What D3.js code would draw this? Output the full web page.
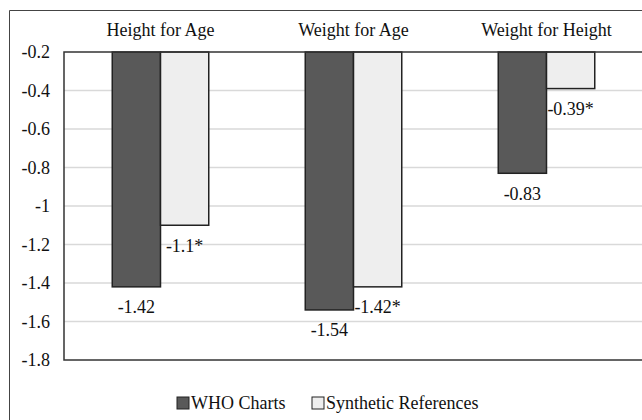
<!DOCTYPE html>
<html>
<head>
<meta charset="utf-8">
<script src="https://cdn.jsdelivr.net/npm/d3@7"></script>
<style>
  body { margin: 0; background: #fff; }
  svg { display: block; }
  svg text { font-family: "Liberation Serif", "Times New Roman", serif; fill: #111; }
</style>
</head>
<body>
<svg id="chart" width="642" height="420"></svg>
<script>
const categories = ["Height for Age", "Weight for Age", "Weight for Height"];
const series = ["WHO Charts", "Synthetic References"];
const whoValues = [-1.42, -1.54, -0.83];
const synthValues = [-1.1, -1.42, -0.39];
const whoLabels = ["-1.42", "-1.54", "-0.83"];
const synthLabels = ["-1.1*", "-1.42*", "-0.39*"];
const yTicks = [-0.2, -0.4, -0.6, -0.8, -1, -1.2, -1.4, -1.6, -1.8];
const yTickLabels = ["-0.2", "-0.4", "-0.6", "-0.8", "-1", "-1.2", "-1.4", "-1.6", "-1.8"];

const colors = { "WHO Charts": "#595959", "Synthetic References": "#eeeeee" };

const svg = d3.select("#chart");
const margin = { top: 52, left: 64 };
const plotRight = 643, plotBottom = 360;

// outer frame
svg.append("path")
    .attr("d", "M9.5,420 L9.5,10.5 L642,10.5")
    .attr("fill", "none")
    .attr("stroke", "#444")
    .attr("stroke-width", 1);

const x0 = d3.scaleBand().domain(categories).range([margin.left, plotRight]);
const bw = x0.bandwidth();
const x1 = d3.scaleBand().domain(series).range([bw * 0.25, bw * 0.75]);
const y = d3.scaleLinear().domain([-0.2, -1.8]).range([margin.top, plotBottom]);

// gridlines
svg.append("g").selectAll("line")
    .data(yTicks.slice(1, -1))
    .join("line")
    .attr("x1", margin.left).attr("x2", plotRight)
    .attr("y1", d => y(d)).attr("y2", d => y(d))
    .attr("stroke", "#d9d9d9").attr("stroke-width", 1.5);

// y tick labels
svg.append("g").selectAll("text")
    .data(yTicks)
    .join("text")
    .attr("x", 50)
    .attr("y", d => y(d))
    .attr("dy", "0.35em")
    .attr("text-anchor", "end")
    .style("font-size", "18px")
    .text((d, i) => yTickLabels[i]);

// category titles
svg.append("g").selectAll("text")
    .data(categories)
    .join("text")
    .attr("x", d => x0(d) + bw / 2)
    .attr("y", 30)
    .attr("dy", "0.35em")
    .attr("text-anchor", "middle")
    .style("font-size", "18px")
    .text(d => d);

const rows = categories.map((c, i) => ({
    cat: c,
    vals: [
        { s: series[0], v: whoValues[i], label: whoLabels[i] },
        { s: series[1], v: synthValues[i], label: synthLabels[i] }
    ]
}));

const groups = svg.append("g").selectAll("g")
    .data(rows)
    .join("g")
    .attr("transform", d => `translate(${x0(d.cat)},0)`);

groups.selectAll("rect")
    .data(d => d.vals)
    .join("rect")
    .attr("x", d => x1(d.s))
    .attr("y", y(-0.2))
    .attr("width", x1.bandwidth())
    .attr("height", d => y(d.v) - y(-0.2))
    .attr("fill", d => colors[d.s])
    .attr("stroke", "#222")
    .attr("stroke-width", 1.5);

groups.selectAll("text")
    .data(d => d.vals)
    .join("text")
    .attr("x", d => x1(d.s) + x1.bandwidth() / 2)
    .attr("y", d => y(d.v) + 20)
    .attr("dy", "0.35em")
    .attr("text-anchor", "middle")
    .style("font-size", "18px")
    .text(d => d.label);

// plot area border
svg.append("rect")
    .attr("x", margin.left).attr("y", margin.top)
    .attr("width", plotRight - margin.left)
    .attr("height", plotBottom - margin.top)
    .attr("fill", "none")
    .attr("stroke", "#333")
    .attr("stroke-width", 1.5);

// legend
const legendItems = [
    { s: series[0], x: 177 },
    { s: series[1], x: 312 }
];
const lg = svg.append("g").selectAll("g")
    .data(legendItems)
    .join("g")
    .attr("transform", d => `translate(${d.x},403)`);
lg.append("rect")
    .attr("x", 0).attr("y", -6)
    .attr("width", 12).attr("height", 12)
    .attr("fill", d => colors[d.s])
    .attr("stroke", "#222").attr("stroke-width", 1);
lg.append("text")
    .attr("x", 14)
    .attr("dy", "0.35em")
    .style("font-size", "18px")
    .text(d => d.s);
</script>
</body>
</html>
